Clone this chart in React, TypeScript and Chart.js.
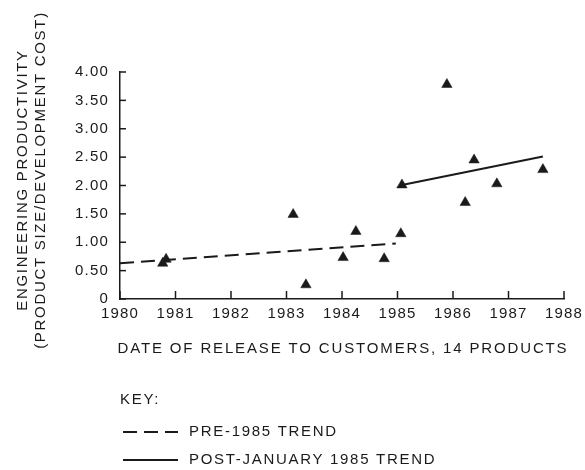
import React, { useEffect, useRef } from 'react';
import { Chart, registerables } from 'chart.js';

Chart.register(...registerables);

// ---- data ----
const releaseDates = [1980.77, 1980.83, 1983.12, 1983.35, 1984.02, 1984.25, 1984.76, 1985.06, 1985.08, 1985.89, 1986.22, 1986.38, 1986.79, 1987.62];
const productivity = [0.63, 0.70, 1.49, 0.25, 0.73, 1.19, 0.71, 1.15, 2.01, 3.78, 1.70, 2.45, 2.03, 2.28];
const preTrendX = [1980, 1984.97];
const preTrendY = [0.63, 0.98];
const postTrendX = [1985.08, 1987.62];
const postTrendY = [2.01, 2.51];
const xTickLabels = ['1980', '1981', '1982', '1983', '1984', '1985', '1986', '1987', '1988'];
const yTickLabels = ['0', '0.50', '1.00', '1.50', '2.00', '2.50', '3.00', '3.50', '4.00'];
const yTitle = ['ENGINEERING PRODUCTIVITY', '(PRODUCT SIZE/DEVELOPMENT COST)'];
const xTitle = 'DATE OF RELEASE TO CUSTOMERS, 14 PRODUCTS';
const keyTitle = 'KEY:';
const seriesNames = ['PRE-1985 TREND', 'POST-JANUARY 1985 TREND'];

const FONT = '"Liberation Sans", Arial, Helvetica, sans-serif';
const INK = '#1a1a1a';

const spacingPlugin = {
  id: 'tickSpacing',
  beforeLayout(chart: any) {
    chart.ctx.letterSpacing = '1.2px';
  },
  beforeDraw(chart: any) {
    chart.ctx.letterSpacing = '1.2px';
  },
};

const decorPlugin = {
  id: 'decor',
  afterDraw(chart: any) {
    const { ctx, scales } = chart;
    const xs = scales.x;
    const ys = scales.y;
    ctx.save();
    ctx.strokeStyle = INK;
    ctx.lineWidth = 1.5;
    ctx.setLineDash([]);
    // inward tick marks
    ys.ticks.forEach((t: any) => {
      const py = ys.getPixelForValue(t.value);
      ctx.beginPath();
      ctx.moveTo(xs.left, py);
      ctx.lineTo(xs.left + 6, py);
      ctx.stroke();
    });
    xs.ticks.forEach((t: any) => {
      const px = xs.getPixelForValue(t.value);
      ctx.beginPath();
      ctx.moveTo(px, ys.bottom);
      ctx.lineTo(px, ys.bottom - 8);
      ctx.stroke();
    });

    // titles
    ctx.fillStyle = INK;
    ctx.font = `15px ${FONT}`;
    ctx.letterSpacing = '1.7px';
    ctx.textAlign = 'center';
    ctx.textBaseline = 'middle';
    const yMid = 180;
    [23, 41].forEach((cx, i) => {
      ctx.save();
      ctx.translate(cx, yMid);
      ctx.rotate(-Math.PI / 2);
      ctx.fillText(yTitle[i], 0, 0);
      ctx.restore();
    });
    ctx.letterSpacing = '1.85px';
    ctx.fillText(xTitle, (xs.left + xs.right) / 2 + 1, 349);
    ctx.letterSpacing = '1.7px';

    // key
    ctx.textAlign = 'left';
    ctx.fillText(keyTitle, 120, 400);
    chart.data.datasets.slice(1).forEach((ds: any, i: number) => {
      const ly = 432 + i * 28;
      ctx.setLineDash(ds.borderDash || []);
      ctx.lineWidth = ds.borderWidth;
      ctx.strokeStyle = ds.borderColor;
      ctx.beginPath();
      ctx.moveTo(123, ly);
      ctx.lineTo(178, ly);
      ctx.stroke();
      ctx.setLineDash([]);
      ctx.fillText(ds.label, 189, ly);
    });
    ctx.restore();
  },
};

export default function App() {
  const ref = useRef<HTMLCanvasElement>(null);
  useEffect(() => {
    if (!ref.current) return;
    const chart = new Chart(ref.current, {
      type: 'scatter',
      data: {
        datasets: [
          {
            label: 'Products',
            data: releaseDates.map((d, i) => ({ x: d, y: productivity[i] })),
            pointStyle: 'triangle',
            pointRadius: 6,
            pointBackgroundColor: INK,
            pointBorderColor: INK,
            pointBorderWidth: 0.5,
            showLine: false,
            clip: false,
          } as any,
          {
            type: 'line',
            label: seriesNames[0],
            data: preTrendX.map((d, i) => ({ x: d, y: preTrendY[i] })),
            borderColor: INK,
            borderWidth: 2,
            borderDash: [14, 7],
            pointRadius: 0,
            fill: false,
          } as any,
          {
            type: 'line',
            label: seriesNames[1],
            data: postTrendX.map((d, i) => ({ x: d, y: postTrendY[i] })),
            borderColor: INK,
            borderWidth: 2,
            pointRadius: 0,
            fill: false,
          } as any,
        ],
      },
      options: {
        responsive: false,
        animation: false,
        devicePixelRatio: 1,
        layout: { padding: { left: 0, top: 72, right: 21, bottom: 0 } },
        plugins: { legend: { display: false }, tooltip: { enabled: false } },
        scales: {
          x: {
            type: 'linear',
            min: 1980,
            max: 1988,
            afterFit: (s: any) => { s.height = 171; s.paddingLeft = 0; s.paddingRight = 0; },
            grid: { display: false, drawTicks: false },
            border: { display: true, color: INK, width: 1.5 },
            ticks: {
              stepSize: 1,
              padding: 6,
              color: INK,
              font: { family: FONT, size: 15 },
              maxRotation: 0,
              callback: (_v: any, i: number) => xTickLabels[i],
            },
          },
          y: {
            type: 'linear',
            min: 0,
            max: 4,
            afterFit: (s: any) => { s.width = 120; s.paddingTop = 0; s.paddingBottom = 0; },
            grid: { display: false, drawTicks: false },
            border: { display: true, color: INK, width: 1.5 },
            ticks: {
              stepSize: 0.5,
              padding: 11,
              color: INK,
              font: { family: FONT, size: 15 },
              callback: (_v: any, i: number) => yTickLabels[i],
            },
          },
        },
      } as any,
      plugins: [spacingPlugin, decorPlugin],
    });
    return () => chart.destroy();
  }, []);
  return (
    <div style={{ position: 'absolute', left: 0, top: 0, width: 585, height: 470, background: '#fff' }}>
      <canvas ref={ref} width={585} height={470} style={{ width: 585, height: 470, display: 'block' }} />
    </div>
  );
}
